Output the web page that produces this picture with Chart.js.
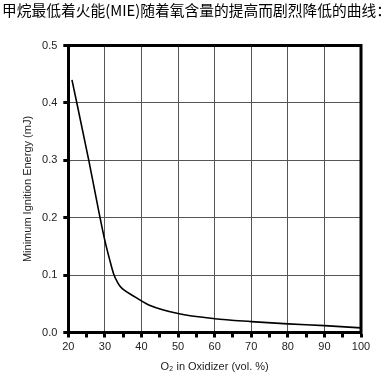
<!DOCTYPE html>
<html>
<head>
<meta charset="utf-8">
<script src="https://cdn.jsdelivr.net/npm/chart.js@4/dist/chart.umd.min.js"></script>
<style>
html,body{margin:0;padding:0;background:#fff;}
canvas{display:block;}
</style>
</head>
<body>
<canvas id="c" width="391" height="383"></canvas>
<script>
// O2 content in oxidizer (vol. %)
const o2Percent = [21, 25.6, 28.4, 30, 31.3, 32.5, 33.5, 34.2, 35, 38.2, 40, 42, 50, 60, 70, 80, 90, 100];
// Minimum ignition energy (mJ)
const mieValues = [0.440, 0.300, 0.209, 0.160, 0.127, 0.100, 0.087, 0.080, 0.075, 0.062, 0.055, 0.048, 0.033, 0.024, 0.019, 0.015, 0.012, 0.008];
const xTickValues = [20, 30, 40, 50, 60, 70, 80, 90, 100];
const yTickValues = [0.0, 0.1, 0.2, 0.3, 0.4, 0.5];
const titleText = '甲烷最低着火能(MIE)随着氧含量的提高而剧烈降低的曲线：';
const xTitle = 'O₂ in Oxidizer (vol. %)';
const yTitle = 'Minimum Ignition Energy (mJ)';

const points = o2Percent.map((x, i) => ({x: x, y: mieValues[i]}));

const frame = {
  id: 'frame',
  afterDatasetsDraw(chart) {
    const a = chart.chartArea, ctx = chart.ctx;
    ctx.save();
    ctx.strokeStyle = '#000';
    ctx.lineWidth = 3;
    ctx.beginPath();
    ctx.moveTo(a.left - 1.5, a.top);
    ctx.lineTo(a.right, a.top);
    ctx.lineTo(a.right, a.bottom + 1.5);
    ctx.stroke();
    ctx.restore();
  }
};

const tickFont = {family: '"Liberation Sans", Arial, sans-serif', size: 11};

new Chart(document.getElementById('c'), {
  type: 'line',
  data: {
    datasets: [{
      data: points,
      borderColor: '#000',
      borderWidth: 1.6,
      pointRadius: 0,
      fill: false,
      cubicInterpolationMode: 'monotone'
    }]
  },
  options: {
    responsive: false,
    animation: false,
    devicePixelRatio: 1,
    layout: {padding: {left: 2, right: 0, top: 0, bottom: 0}},
    plugins: {
      legend: {display: false},
      tooltip: {enabled: false},
      title: {
        display: true,
        text: titleText,
        align: 'start',
        color: '#000',
        font: {family: '"Noto Sans CJK SC", sans-serif', size: 15, weight: 'normal', lineHeight: 1.2},
        padding: {top: 1.5, bottom: 26}
      }
    },
    scales: {
      x: {
        type: 'linear',
        min: 20,
        max: 100,
        afterFit(s) { s.height = 50.5; },
        ticks: {
          stepSize: 5,
          autoSkip: false,
          maxRotation: 0,
          color: '#222',
          font: tickFont,
          padding: 3,
          callback: v => xTickValues.includes(v) ? String(v) : ''
        },
        grid: {
          color: ctx => (ctx.tick && xTickValues.includes(ctx.tick.value)) ? '#555' : 'rgba(0,0,0,0)',
          lineWidth: 1,
          tickLength: 5,
          tickWidth: 3,
          tickColor: '#000'
        },
        border: {color: '#000', width: 3},
        title: {
          display: true,
          text: xTitle,
          color: '#222',
          font: tickFont,
          padding: {top: 0, bottom: 9}
        }
      },
      y: {
        type: 'linear',
        min: 0,
        max: 0.5,
        afterFit(s) { s.width = 66.3; },
        afterBuildTicks(s) { s.ticks = yTickValues.map(v => ({value: v})); },
        ticks: {
          color: '#222',
          font: tickFont,
          padding: 6,
          callback: v => Number(v).toFixed(1)
        },
        grid: {
          color: '#555',
          lineWidth: 1,
          tickLength: 5,
          tickWidth: 3,
          tickColor: '#000'
        },
        border: {color: '#000', width: 3},
        title: {
          display: true,
          text: yTitle,
          color: '#222',
          font: tickFont,
          padding: {top: 19, bottom: 0}
        }
      },
      rightMargin: {
        type: 'linear',
        position: 'right',
        min: 0,
        max: 1,
        afterFit(s) { s.width = 30; },
        grid: {display: false, drawTicks: false},
        ticks: {display: false},
        border: {display: false}
      }
    }
  },
  plugins: [frame]
});
</script>
</body>
</html>
